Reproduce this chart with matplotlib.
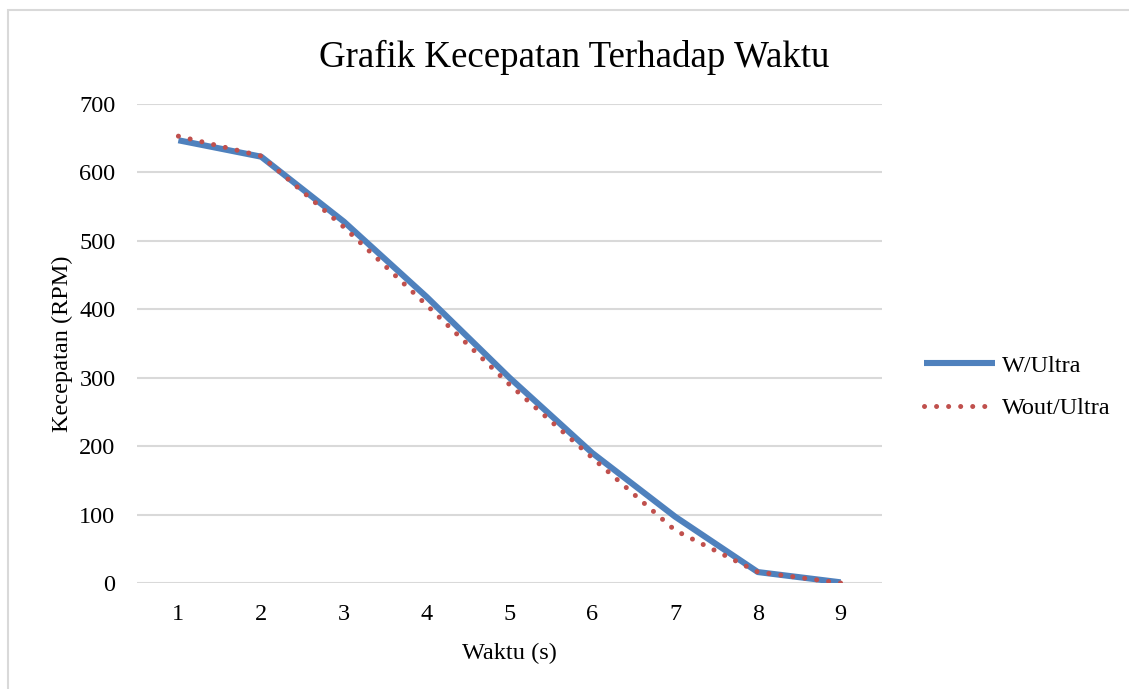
import matplotlib.pyplot as plt
from matplotlib.patches import Rectangle

plt.rcParams['font.family'] = ['Liberation Serif', 'DejaVu Serif']

waktu = [1, 2, 3, 4, 5, 6, 7, 8, 9]
w_ultra = [647, 623, 528, 418, 300, 190, 97, 16, 1]
wout_ultra = [653, 624, 520, 406, 290, 183, 77, 16, 0]
yticks = [0, 100, 200, 300, 400, 500, 600, 700]

fig = plt.figure(figsize=(11.29, 6.89), dpi=100)
ax = fig.add_axes([137 / 1129, 106 / 689, 745 / 1129, 479 / 689])

# chart border (cut off by the screenshot on the right and bottom)
fig.patches.append(Rectangle((8 / 1129, -0.05), 1.1, (689 - 10) / 689 + 0.05,
                             transform=fig.transFigure, fill=False,
                             edgecolor='#D9D9D9', linewidth=1.5))

ax.plot(waktu, w_ultra, color='#4F81BD', linewidth=4.4, label='W/Ultra',
        solid_capstyle='butt', zorder=3)
ax.plot(waktu, wout_ultra, color='#C0504D', linewidth=3.6, label='Wout/Ultra',
        linestyle=(0, (0.01, 2.4)), dash_capstyle='round', zorder=4)

ax.set_xlim(0.5, 9.5)
ax.set_ylim(0, 700)
ax.set_xticks(waktu)
ax.set_yticks(yticks)
ax.grid(axis='y', color='#D9D9D9', linewidth=1.5)
ax.set_axisbelow(True)
for s in ax.spines.values():
    s.set_visible(False)
ax.tick_params(length=0, labelsize=17.5)
ax.tick_params(axis='x', pad=15)
ax.tick_params(axis='y', pad=15.5)

fig.text(574 / 1129, 1 - 57 / 689, 'Grafik Kecepatan Terhadap Waktu',
         fontsize=26.6, ha='center', va='center')
ax.set_xlabel('Waktu (s)', fontsize=17.5, labelpad=13)
ax.set_ylabel('Kecepatan (RPM)', fontsize=17.5)
ax.yaxis.set_label_coords(-(137 - 73) / 745, 0.5)

ax.legend(loc='center left', bbox_to_anchor=(1.0275, 0.409), frameon=False,
          fontsize=17.5, handlelength=2.9, handletextpad=0.3, labelspacing=0.85)

fig.savefig('out.png', dpi=100)
